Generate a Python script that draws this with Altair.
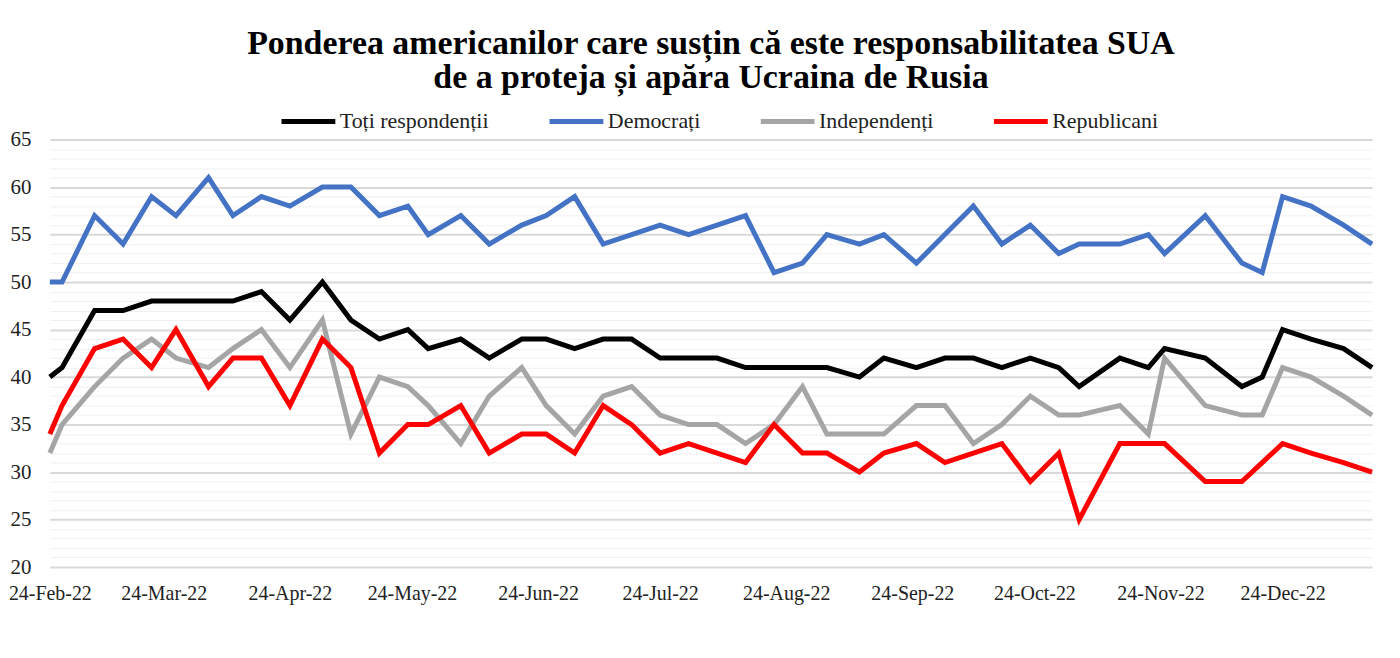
import altair as alt
import pandas as pd

# ---- data ----
dates = [
    "2022-02-24", "2022-02-27", "2022-03-07", "2022-03-14", "2022-03-21", "2022-03-27",
    "2022-04-04", "2022-04-10", "2022-04-17", "2022-04-24", "2022-05-02", "2022-05-09",
    "2022-05-16", "2022-05-23", "2022-05-28", "2022-06-05", "2022-06-12", "2022-06-20",
    "2022-06-26", "2022-07-03", "2022-07-10", "2022-07-17", "2022-07-24", "2022-07-31",
    "2022-08-07", "2022-08-14", "2022-08-21", "2022-08-28", "2022-09-03", "2022-09-11",
    "2022-09-17", "2022-09-25", "2022-10-02", "2022-10-09", "2022-10-16", "2022-10-23",
    "2022-10-30", "2022-11-04", "2022-11-14", "2022-11-21", "2022-11-25", "2022-12-05",
    "2022-12-14", "2022-12-19", "2022-12-24", "2022-12-31", "2023-01-08", "2023-01-15",
]

toti = [40, 41, 47, 47, 48, 48, 48, 48, 49, 46, 50, 46,
        44, 45, 43, 44, 42, 44, 44, 43, 44, 44, 42, 42,
        42, 41, 41, 41, 41, 40, 42, 41, 42, 42, 41, 42,
        41, 39, 42, 41, 43, 42, 39, 40, 45, 44, 43, 41]

democrati = [50, 50, 57, 54, 59, 57, 61, 57, 59, 58, 60, 60,
             57, 58, 55, 57, 54, 56, 57, 59, 54, 55, 56, 55,
             56, 57, 51, 52, 55, 54, 55, 52, 55, 58, 54, 56,
             53, 54, 54, 55, 53, 57, 52, 51, 59, 58, 56, 54]

independenti = [32, 35, 39, 42, 44, 42, 41, 43, 45, 41, 46, 34,
                40, 39, 37, 33, 38, 41, 37, 34, 38, 39, 36, 35,
                35, 33, 35, 39, 34, 34, 34, 37, 37, 33, 35, 38,
                36, 36, 37, 34, 42, 37, 36, 36, 41, 40, 38, 36]

republicani = [34, 37, 43, 44, 41, 45, 39, 42, 42, 37, 44, 41,
               32, 35, 35, 37, 32, 34, 34, 32, 37, 35, 32, 33,
               32, 31, 35, 32, 32, 30, 32, 33, 31, 32, 33, 29,
               32, 25, 33, 33, 33, 29, 29, 31, 33, 32, 31, 30]

series_names = ["Toți respondenții", "Democrați", "Independenți", "Republicani"]
series_colors = ["#000000", "#4472C4", "#A5A5A5", "#FF0000"]
tick_months = [2, 3, 4, 5, 6, 7, 8, 9, 10, 11, 12]
y_ticks = list(range(20, 66))

title_lines = [
    "Ponderea americanilor care susțin că este responsabilitatea SUA",
    "de a proteja și apăra Ucraina de Rusia",
]

rows = []
for name, vals in zip(series_names, [toti, democrati, independenti, republicani]):
    for d, v in zip(dates, vals):
        rows.append({"data": d, "serie": name, "valoare": v})
df = pd.DataFrame(rows)

FONT = "Liberation Serif"

chart = (
    alt.Chart(df)
    .mark_line(strokeWidth=5, strokeJoin="miter", strokeCap="butt")
    .encode(
        x=alt.X(
            "data:T",
            title=None,
            scale=alt.Scale(
                type="utc",
                domain=[
                    alt.DateTime(year=2022, month=2, date=24, utc=True),
                    alt.DateTime(year=2023, month=1, date=15, utc=True),
                ],
            ),
            axis=alt.Axis(
                values=[alt.DateTime(year=2022, month=m, date=24, utc=True) for m in tick_months],
                format="%d-%b-%y",
                grid=False,
                domain=False,
                ticks=False,
                labelFont=FONT,
                labelFontSize=20,
                labelColor="#222222",
                labelPadding=17,
                labelOverlap=False,
                labelFlush=False,
            ),
        ),
        y=alt.Y(
            "valoare:Q",
            title=None,
            scale=alt.Scale(domain=[20, 65], nice=False, zero=False),
            axis=alt.Axis(
                values=y_ticks,
                labelExpr="datum.value % 5 === 0 ? datum.label : ''",
                domain=False,
                ticks=False,
                labelFont=FONT,
                labelFontSize=21,
                labelColor="#222222",
                labelPadding=19,
                gridColor={
                    "condition": {"test": "datum.value % 5 === 0", "value": "#D9D9D9"},
                    "value": "#F0F0F0",
                },
                gridWidth={
                    "condition": {"test": "datum.value % 5 === 0", "value": 2},
                    "value": 1,
                },
            ),
        ),
        color=alt.Color(
            "serie:N",
            scale=alt.Scale(domain=series_names, range=series_colors),
            legend=alt.Legend(
                title=None,
                orient="none",
                direction="horizontal",
                legendX=230,
                legendY=-48,
                symbolType="stroke",
                symbolSize=2916,
                symbolStrokeWidth=5,
                labelFont=FONT,
                labelFontSize=22,
                labelColor="#222222",
                labelOffset=2,
                columnPadding=50,
                labelLimit=300,
            ),
        ),
    )
    .properties(
        width=1327,
        height=429,
        title=alt.TitleParams(
            text=title_lines,
            font=FONT,
            fontSize=34,
            fontWeight="bold",
            color="#000000",
            lineHeight=34,
            anchor="middle",
            offset=-3,
        ),
        padding={"left": 0, "top": 18, "right": 10, "bottom": 5},
        background="white",
    )
    .configure_view(stroke=None)
)

chart.save("out.html", embed_options={"renderer": "svg", "actions": False})
